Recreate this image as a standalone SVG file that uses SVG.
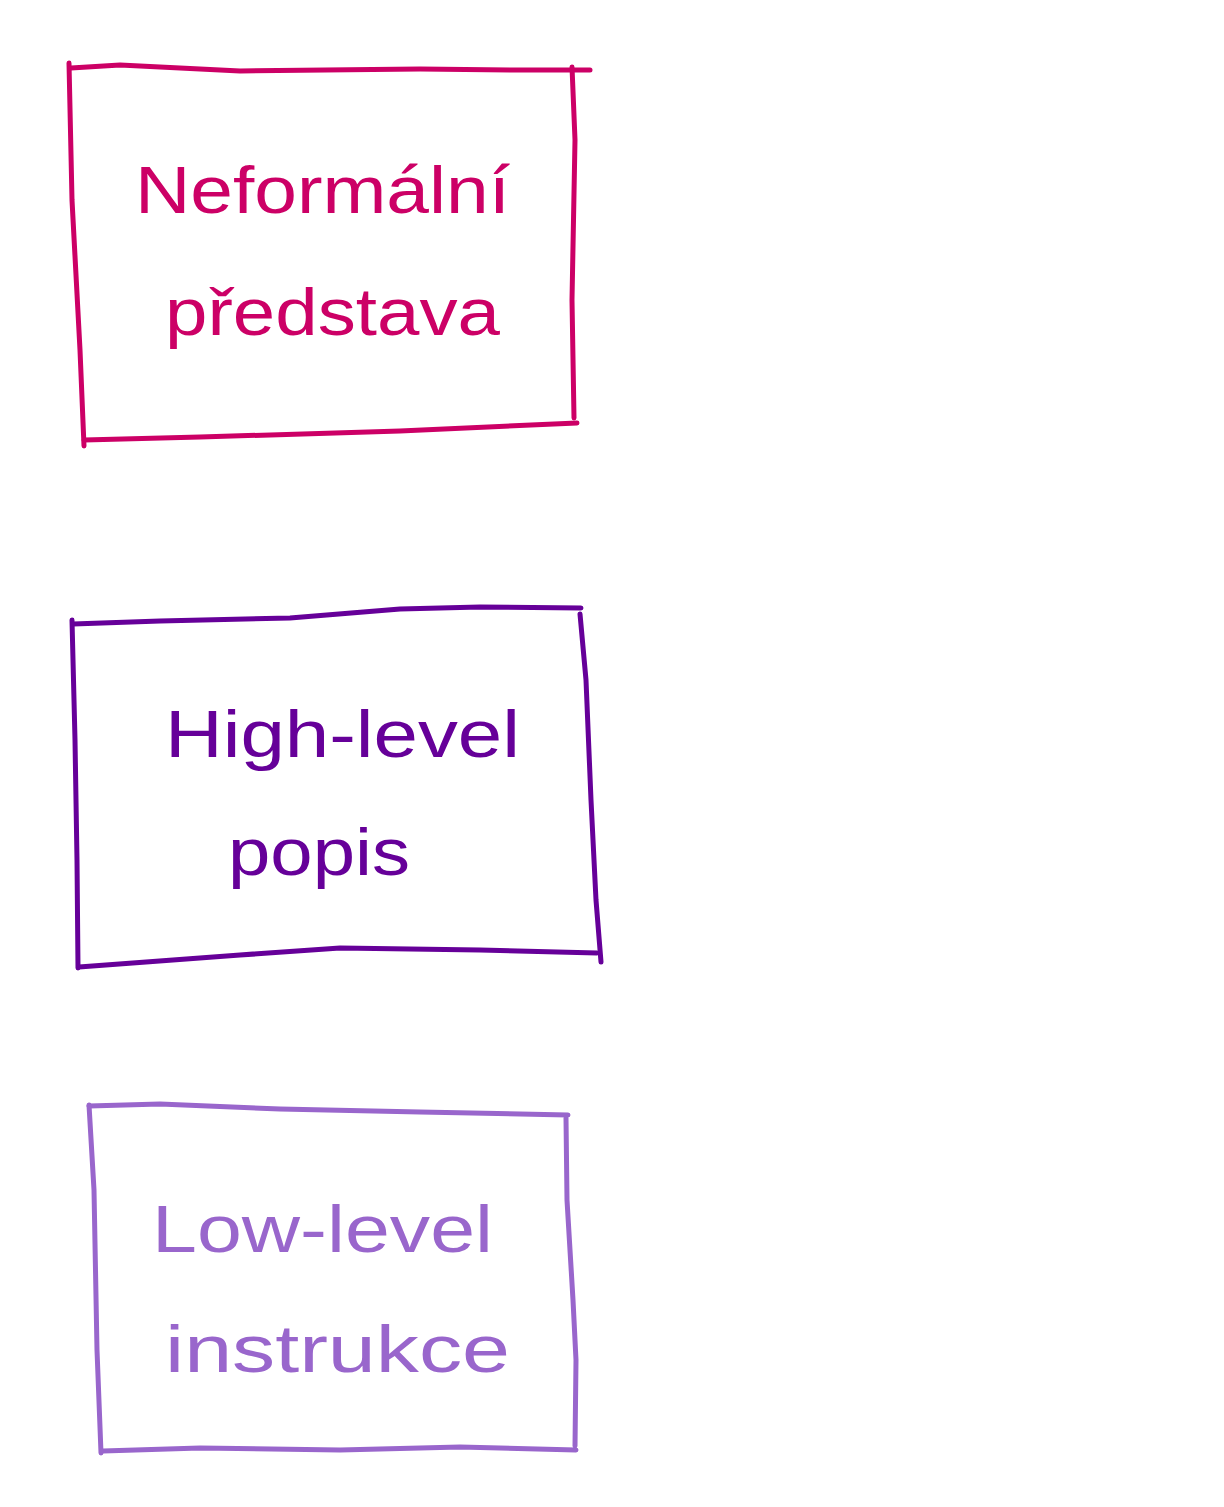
<svg xmlns="http://www.w3.org/2000/svg" width="1224" height="1507" viewBox="0 0 1224 1507">
<style>
.box{fill:none;stroke-width:5;stroke-linecap:round;stroke-linejoin:round}
.t{font-family:"Liberation Sans","DejaVu Sans",sans-serif;font-size:66px}
.c1{stroke:#CC0066}.f1{fill:#CC0066}
.c2{stroke:#660099}.f2{fill:#660099}
.c3{stroke:#9966CC}.f3{fill:#9966CC}
</style>
<rect width="1224" height="1507" fill="#ffffff"/>
<g id="node-neformalni">
<path class="box c1" d="M71,68 L120,65 L240,71 L420,69 L520,70 L590,70"/>
<path class="box c1" d="M572,67 L575,140 L572,300 L574,418"/>
<path class="box c1" d="M84,440 L200,437 L400,431 L577,423"/>
<path class="box c1" d="M69,63 L72,200 L80,350 L84,446"/>
<text class="t f1" x="135" y="213" textLength="375" lengthAdjust="spacingAndGlyphs">Neformální</text>
<text class="t f1" x="165" y="335" textLength="335" lengthAdjust="spacingAndGlyphs">představa</text>
</g>
<g id="node-highlevel">
<path class="box c2" d="M73,624 L160,621 L290,618 L400,609 L480,607 L581,608"/>
<path class="box c2" d="M580,614 L586,680 L591,800 L596,900 L601,962"/>
<path class="box c2" d="M79,967 L240,955 L340,948 L480,950 L597,953"/>
<path class="box c2" d="M72,620 L75,740 L77,860 L78,968"/>
<text class="t f2" x="165" y="757" textLength="355" lengthAdjust="spacingAndGlyphs">High-level</text>
<text class="t f2" x="228" y="875" textLength="182" lengthAdjust="spacingAndGlyphs">popis</text>
</g>
<g id="node-lowlevel">
<path class="box c3" d="M89,1106 L160,1104 L280,1109 L420,1112 L568,1115"/>
<path class="box c3" d="M566,1118 L567,1200 L573,1300 L576,1360 L575,1446"/>
<path class="box c3" d="M103,1451 L200,1448 L340,1450 L460,1447 L576,1450"/>
<path class="box c3" d="M89,1105 L94,1190 L97,1350 L101,1453"/>
<text class="t f3" x="152" y="1252" textLength="341" lengthAdjust="spacingAndGlyphs">Low-level</text>
<text class="t f3" x="165" y="1372" textLength="345" lengthAdjust="spacingAndGlyphs">instrukce</text>
</g>
<g id="connectors"></g>
</svg>
